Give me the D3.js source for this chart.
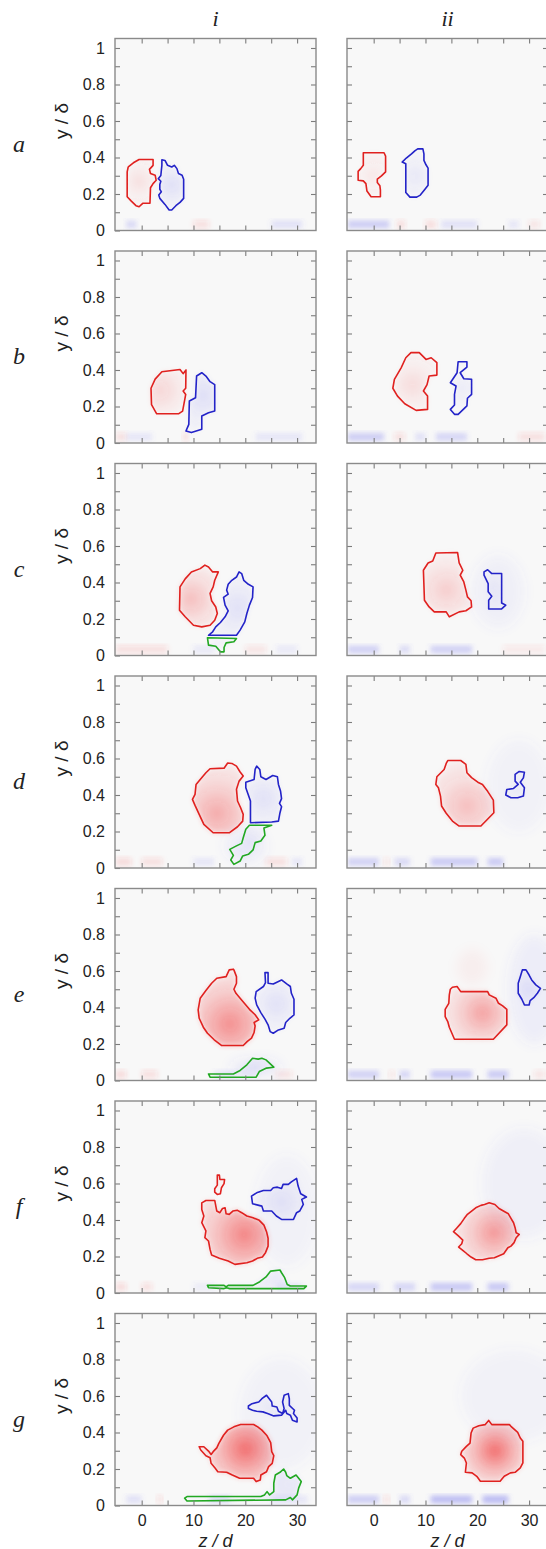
<!DOCTYPE html>
<html>
<head>
<meta charset="utf-8">
<script src="https://cdn.jsdelivr.net/npm/d3@7"></script>
<style>
  body { margin: 0; background: #fff; }
  svg { display: block; }
</style>
</head>
<body>
<script>
"use strict";

const rowNames = ["a", "b", "c", "d", "e", "f", "g"];
const colNames = ["i", "ii"];
const zTicks = [0, 5, 10, 15, 20, 25, 30];
const zLabels = [0, 10, 20, 30];
const yTicks = [0.1, 0.2, 0.3, 0.4, 0.5, 0.6, 0.7, 0.8, 0.9, 1.0];
const yLabels = [0, 0.2, 0.4, 0.6, 0.8, 1];

// contours per row: col (0 = i, 1 = ii), kind, peak of the shading, strength, outline [z, y]
const rowA = [
  {col: 0, kind: "red", peak: [-0.5, 0.27], s: 0.12, pts: [[-2.4,0.353],[-1.6,0.371],[-0.5,0.389],[2.2,0.389],[2.2,0.357],[1.5,0.335],[1.7,0.312],[2.6,0.303],[2.8,0.275],[2.2,0.257],[1.7,0.234],[1.6,0.149],[0.2,0.149],[-0.5,0.13],[-1.1,0.136],[-2.0,0.161],[-2.8,0.185],[-2.8,0.321],[-2.6,0.348]]},
  {col: 0, kind: "blue", peak: [5.8, 0.25], s: 0.16, pts: [[3.9,0.388],[4.5,0.384],[5.0,0.357],[5.8,0.348],[6.3,0.357],[6.8,0.339],[7.1,0.312],[7.8,0.303],[8.1,0.281],[8.1,0.176],[7.4,0.154],[6.6,0.136],[5.8,0.112],[5.3,0.112],[4.5,0.143],[3.5,0.176],[3.3,0.194],[3.8,0.212],[3.5,0.226],[3.5,0.252],[3.7,0.27],[3.2,0.284],[3.7,0.302],[3.8,0.33],[3.9,0.357]]},
  {col: 1, kind: "red", peak: [0, 0.3], s: 0.09, pts: [[-2.0,0.426],[2.0,0.426],[2.3,0.408],[2.3,0.321],[1.5,0.299],[0.7,0.281],[0.7,0.263],[1.2,0.245],[1.3,0.221],[1.3,0.185],[-0.5,0.185],[-1.3,0.216],[-1.5,0.257],[-2.0,0.272],[-3.0,0.275],[-3.0,0.324],[-2.5,0.339],[-2.0,0.357]]},
  {col: 1, kind: "blue", peak: [8, 0.3], s: 0.1, pts: [[8.5,0.447],[9.5,0.447],[9.7,0.42],[9.7,0.384],[10.1,0.36],[10.5,0.342],[10.5,0.248],[9.9,0.226],[9.0,0.194],[8.3,0.183],[7.0,0.183],[6.2,0.208],[6.2,0.366],[5.5,0.375],[6.3,0.397],[7.3,0.42],[8.0,0.438]]}
];

const rowB = [
  {col: 0, kind: "red", peak: [3.5, 0.29], s: 0.18, pts: [[3.9,0.39],[7.4,0.403],[8.0,0.38],[8.55,0.40],[8.5,0.30],[8.0,0.285],[8.5,0.266],[7.9,0.175],[7.1,0.16],[2.9,0.16],[1.9,0.21],[1.8,0.30],[2.6,0.35]]},
  {col: 0, kind: "blue", peak: [11.8, 0.26], s: 0.16, pts: [[11.6,0.385],[10.6,0.367],[10.4,0.248],[9.2,0.23],[9.1,0.102],[8.55,0.066],[9.6,0.057],[11.6,0.075],[11.6,0.148],[12.9,0.166],[14.1,0.175],[14.1,0.32],[13.2,0.336],[12.4,0.367]]},
  {col: 1, kind: "red", peak: [7.5, 0.32], s: 0.14, pts: [[7.2,0.495],[8.8,0.495],[10.1,0.458],[11.1,0.467],[12.2,0.44],[12.2,0.372],[10.7,0.367],[10.3,0.32],[9.6,0.285],[10.4,0.257],[10.4,0.184],[8.2,0.179],[6.0,0.215],[4.6,0.257],[3.7,0.30],[4.0,0.349],[5.3,0.412],[6.2,0.467]]},
  {col: 1, kind: "blue", peak: [17, 0.3], s: 0.08, pts: [[16.3,0.445],[18.0,0.445],[18.0,0.416],[16.7,0.385],[17.4,0.352],[18.9,0.349],[18.9,0.266],[18.1,0.245],[18.0,0.203],[16.3,0.157],[15.6,0.157],[14.8,0.184],[15.6,0.208],[15.6,0.266],[15.9,0.312],[14.8,0.33],[16.1,0.385]]}
];

const rowC = [
  {col: 0, kind: "red", peak: [9.5, 0.31], s: 0.3, pts: [[12.2,0.495],[11.3,0.476],[9.6,0.458],[8.4,0.42],[7.4,0.376],[7.3,0.248],[8.4,0.212],[10.0,0.166],[11.6,0.157],[13.2,0.166],[14.1,0.193],[14.6,0.23],[14.3,0.266],[13.5,0.30],[13.2,0.34],[13.8,0.376],[14.1,0.412],[14.8,0.458],[13.7,0.458],[12.9,0.485]]},
  {col: 0, kind: "blue", peak: [18.5, 0.26], s: 0.15, pts: [[18.8,0.458],[18.3,0.43],[17.4,0.412],[16.7,0.39],[16.4,0.358],[16.7,0.336],[15.8,0.318],[16.1,0.276],[16.7,0.245],[16.1,0.212],[15.2,0.181],[14.3,0.157],[13.7,0.13],[12.9,0.111],[18.3,0.111],[19.0,0.139],[19.9,0.184],[20.3,0.23],[20.8,0.276],[21.4,0.318],[21.5,0.376],[20.6,0.39],[19.7,0.412],[19.3,0.449]]},
  {col: 0, kind: "green", peak: [15.5, 0.07], s: 0.06, pts: [[12.7,0.097],[18.3,0.093],[17.8,0.075],[16.3,0.069],[15.9,0.044],[15.9,0.02],[15.2,0.02],[14.3,0.051],[12.9,0.057]]},
  {col: 1, kind: "red", peak: [14, 0.36], s: 0.22, pts: [[12.0,0.562],[16.2,0.564],[16.5,0.507],[17.2,0.467],[16.7,0.44],[17.4,0.403],[17.8,0.358],[18.1,0.321],[18.8,0.30],[18.9,0.266],[17.8,0.245],[16.5,0.239],[14.6,0.212],[14.0,0.239],[11.7,0.239],[10.7,0.266],[9.8,0.303],[9.6,0.467],[10.5,0.507],[11.4,0.518]]},
  {col: 1, kind: "blue", peak: [23.2, 0.35], s: 0.07, pts: [[21.3,0.458],[22.0,0.47],[22.8,0.449],[24.7,0.449],[24.7,0.288],[25.5,0.276],[24.7,0.255],[22.2,0.255],[22.2,0.303],[22.8,0.325],[22.1,0.349],[22.1,0.394],[21.3,0.44]]}
];

const rowD = [
  {col: 0, kind: "red", peak: [14.5, 0.3], s: 0.4, pts: [[16.6,0.575],[15.9,0.547],[13.2,0.544],[12.4,0.522],[11.3,0.485],[10.5,0.458],[10.3,0.403],[9.8,0.376],[10.3,0.343],[11.1,0.294],[12.0,0.239],[13.8,0.193],[16.9,0.193],[18.5,0.226],[19.5,0.257],[19.6,0.294],[19.1,0.33],[18.5,0.367],[18.3,0.431],[18.8,0.476],[19.6,0.504],[19.0,0.526],[18.3,0.558],[17.4,0.573]]},
  {col: 0, kind: "blue", peak: [23.5, 0.38], s: 0.15, pts: [[22.2,0.558],[22.8,0.54],[23.0,0.50],[24.0,0.485],[25.3,0.507],[26.2,0.50],[26.4,0.458],[26.8,0.422],[27.0,0.38],[26.6,0.354],[27.0,0.336],[26.7,0.303],[26.4,0.257],[25.1,0.252],[21.0,0.248],[21.0,0.367],[20.1,0.44],[20.1,0.47],[21.7,0.485],[21.9,0.54]]},
  {col: 0, kind: "green", peak: [21, 0.14], s: 0.07, pts: [[20.8,0.234],[25.1,0.234],[23.6,0.219],[23.8,0.179],[23.0,0.148],[21.9,0.139],[21.5,0.099],[20.6,0.075],[19.5,0.066],[19.0,0.038],[17.8,0.02],[17.2,0.044],[17.7,0.069],[17.0,0.102],[18.2,0.12],[19.3,0.135],[19.6,0.166],[20.1,0.212]]},
  {col: 1, kind: "red", peak: [18, 0.34], s: 0.3, pts: [[14.3,0.589],[16.8,0.589],[17.8,0.568],[18.0,0.522],[18.9,0.495],[20.1,0.47],[21.0,0.458],[22.0,0.42],[23.1,0.372],[23.2,0.303],[20.7,0.23],[16.5,0.23],[15.2,0.257],[14.0,0.30],[13.1,0.34],[12.9,0.394],[12.5,0.44],[12.0,0.458],[12.2,0.50],[13.6,0.54],[14.0,0.573]]},
  {col: 1, kind: "blue", peak: [27.5, 0.44], s: 0.06, pts: [[27.3,0.513],[28.1,0.529],[29.1,0.525],[28.9,0.494],[28.3,0.47],[29.1,0.44],[28.9,0.394],[27.8,0.385],[26.5,0.385],[25.5,0.40],[25.7,0.43],[27.0,0.436],[27.9,0.458],[27.3,0.476]]}
];

const rowE = [
  {col: 0, kind: "red", peak: [17, 0.31], s: 0.55, pts: [[17.7,0.61],[16.9,0.606],[16.3,0.569],[14.5,0.56],[13.5,0.533],[12.4,0.493],[11.3,0.451],[10.9,0.387],[11.1,0.341],[11.9,0.292],[12.7,0.259],[14.0,0.223],[15.4,0.192],[19.6,0.192],[20.4,0.214],[21.2,0.232],[21.7,0.263],[21.9,0.299],[21.7,0.318],[22.6,0.332],[21.9,0.36],[20.8,0.39],[19.9,0.42],[19.0,0.451],[18.2,0.478],[17.8,0.50],[18.3,0.533],[18.3,0.569],[17.8,0.606]]},
  {col: 0, kind: "blue", peak: [26, 0.42], s: 0.15, pts: [[23.8,0.591],[24.4,0.591],[24.4,0.533],[25.4,0.529],[27.0,0.551],[28.0,0.529],[28.7,0.515],[28.9,0.478],[29.4,0.445],[29.4,0.359],[28.6,0.341],[27.8,0.318],[27.5,0.286],[26.4,0.277],[25.4,0.259],[24.8,0.268],[24.4,0.305],[23.8,0.336],[23.0,0.372],[22.2,0.414],[21.9,0.451],[22.1,0.487],[23.5,0.515],[23.9,0.536]]},
  {col: 0, kind: "green", peak: [21, 0.06], s: 0.1, pts: [[12.9,0.036],[17.7,0.036],[19.0,0.055],[20.3,0.086],[21.4,0.122],[22.5,0.117],[23.2,0.122],[24.0,0.113],[25.5,0.073],[24.1,0.068],[22.7,0.049],[22.1,0.018],[13.2,0.018]]},
  {col: 1, kind: "red", peak: [21, 0.37], s: 0.45, pts: [[15.2,0.511],[16.1,0.515],[16.8,0.487],[22.0,0.487],[22.3,0.469],[23.6,0.451],[24.1,0.423],[24.9,0.409],[25.7,0.39],[25.7,0.305],[23.1,0.226],[15.6,0.226],[15.1,0.259],[14.6,0.292],[14.3,0.323],[13.8,0.35],[13.8,0.39],[14.5,0.423],[14.6,0.469],[14.8,0.50]]},
  {col: 1, kind: "blue", peak: [30, 0.5], s: 0.12, pts: [[28.7,0.606],[29.4,0.606],[30.0,0.578],[30.5,0.551],[31.3,0.524],[32.2,0.505],[31.6,0.478],[30.9,0.454],[30.2,0.438],[30.0,0.414],[29.1,0.414],[28.6,0.445],[27.9,0.478],[27.9,0.533],[28.3,0.569]]}
];

const rowF = [
  {col: 0, kind: "red", peak: [19.8, 0.32], s: 0.6, pts: [[12.4,0.507],[14.1,0.507],[14.5,0.449],[15.1,0.44],[15.6,0.463],[16.1,0.467],[16.3,0.434],[16.9,0.431],[17.6,0.449],[18.5,0.453],[19.3,0.44],[20.3,0.422],[21.5,0.412],[22.7,0.398],[23.6,0.372],[24.1,0.336],[24.4,0.30],[24.4,0.257],[23.9,0.221],[23.3,0.197],[22.3,0.19],[21.4,0.175],[20.3,0.166],[18.0,0.157],[16.7,0.175],[15.0,0.19],[13.5,0.208],[13.2,0.239],[12.9,0.285],[12.2,0.303],[12.4,0.34],[11.6,0.385],[12.0,0.422],[11.6,0.458],[11.6,0.494]]},
  {col: 0, kind: "red", peak: [15, 0.6], s: 0.05, pts: [[14.6,0.646],[15.0,0.646],[15.1,0.622],[16.0,0.622],[15.9,0.599],[15.4,0.577],[15.2,0.544],[14.6,0.54],[14.1,0.553],[14.1,0.571],[14.6,0.591]]},
  {col: 0, kind: "blue", peak: [27, 0.5], s: 0.12, pts: [[21.2,0.531],[22.2,0.549],[23.5,0.562],[24.9,0.562],[25.4,0.577],[26.2,0.58],[27.0,0.573],[27.3,0.595],[28.3,0.595],[28.9,0.609],[29.9,0.628],[30.2,0.586],[30.7,0.544],[31.8,0.526],[30.9,0.513],[31.2,0.485],[30.5,0.449],[29.9,0.44],[29.3,0.403],[27.0,0.403],[26.0,0.422],[25.1,0.449],[23.5,0.449],[23.2,0.476],[21.4,0.489]]},
  {col: 0, kind: "green", peak: [26, 0.07], s: 0.1, pts: [[12.7,0.042],[15.9,0.042],[16.3,0.033],[16.7,0.042],[21.5,0.042],[22.8,0.062],[24.0,0.088],[24.9,0.12],[26.7,0.126],[27.0,0.111],[27.6,0.084],[28.1,0.047],[28.7,0.038],[31.8,0.038],[31.3,0.024],[17.0,0.024],[16.4,0.029],[15.9,0.024],[12.9,0.029]]},
  {col: 1, kind: "red", peak: [23.2, 0.33], s: 0.5, pts: [[21.4,0.485],[22.3,0.494],[23.4,0.485],[24.2,0.463],[25.3,0.445],[26.0,0.434],[26.5,0.409],[27.0,0.385],[27.3,0.358],[27.5,0.33],[28.1,0.321],[27.5,0.303],[27.1,0.276],[26.5,0.257],[25.9,0.248],[25.1,0.215],[23.3,0.193],[22.3,0.19],[21.0,0.182],[19.7,0.182],[18.8,0.197],[18.0,0.215],[17.2,0.234],[16.4,0.252],[17.0,0.27],[17.2,0.29],[16.3,0.314],[15.4,0.336],[16.1,0.358],[16.8,0.38],[17.5,0.409],[18.1,0.431],[18.9,0.449],[19.7,0.467],[20.7,0.48]]}
];

const rowG = [
  {col: 0, kind: "red", peak: [20, 0.31], s: 0.72, pts: [[11.1,0.322],[12.0,0.322],[12.9,0.298],[13.4,0.28],[13.8,0.295],[14.5,0.316],[14.9,0.34],[15.8,0.385],[16.6,0.413],[17.8,0.431],[19.1,0.444],[21.6,0.444],[22.4,0.431],[23.2,0.413],[24.2,0.382],[24.9,0.345],[25.1,0.295],[25.5,0.273],[25.2,0.231],[24.5,0.213],[24.1,0.185],[23.0,0.167],[22.9,0.14],[22.1,0.131],[21.6,0.149],[18.9,0.149],[17.5,0.167],[16.4,0.182],[14.7,0.185],[14.2,0.204],[13.4,0.231],[13.2,0.262],[12.4,0.273],[11.4,0.304]]},
  {col: 0, kind: "blue", peak: [27, 0.52], s: 0.08, pts: [[20.6,0.545],[21.3,0.558],[22.6,0.567],[23.2,0.585],[24.1,0.604],[24.5,0.589],[25.1,0.567],[25.2,0.545],[26.1,0.54],[26.4,0.516],[27.2,0.504],[27.5,0.531],[27.2,0.567],[27.5,0.604],[28.3,0.613],[28.5,0.585],[28.5,0.549],[29.5,0.522],[29.3,0.504],[30.0,0.48],[30.0,0.458],[29.1,0.467],[28.7,0.495],[28.0,0.504],[27.8,0.522],[27.0,0.495],[25.5,0.491],[24.3,0.504],[23.4,0.513],[22.2,0.516],[21.4,0.522],[20.6,0.531]]},
  {col: 0, kind: "green", peak: [28.5, 0.12], s: 0.12, pts: [[8.3,0.04],[8.75,0.049],[23.0,0.049],[23.7,0.058],[24.2,0.076],[24.7,0.058],[25.5,0.076],[25.5,0.122],[25.8,0.167],[26.7,0.182],[27.4,0.2],[27.8,0.182],[28.0,0.164],[28.7,0.149],[29.8,0.167],[30.3,0.149],[30.8,0.131],[30.3,0.095],[30.0,0.058],[29.1,0.031],[28.7,0.044],[27.8,0.031],[8.75,0.025]]},
  {col: 1, kind: "red", peak: [23.4, 0.3], s: 0.72, pts: [[22.2,0.466],[21.5,0.443],[20.3,0.437],[19.2,0.424],[18.8,0.397],[18.6,0.342],[17.9,0.324],[17.0,0.297],[16.8,0.279],[17.5,0.26],[17.9,0.233],[17.7,0.182],[19.0,0.179],[19.9,0.16],[20.6,0.133],[24.4,0.133],[25.2,0.16],[26.4,0.179],[27.3,0.182],[28.3,0.206],[28.8,0.233],[28.8,0.352],[28.3,0.37],[27.8,0.401],[26.5,0.434],[26.2,0.443],[22.8,0.443]]}
];

// faint streaks along the wall: [row, col, z0, z1, kind, strength]
const wallStreaks = [
  [0,0,-3,-1,"blue",0.2],[0,0,10,13,"red",0.12],[0,0,25,31,"blue",0.15],
  [0,1,-5,3,"blue",0.28],[0,1,4.5,6,"red",0.15],[0,1,10,12,"red",0.15],[0,1,13,20,"blue",0.15],[0,1,26,28,"blue",0.12],[0,1,30,32,"red",0.1],
  [1,0,-5,-3,"red",0.12],[1,0,-3,2,"blue",0.12],[1,0,8,9,"red",0.15],[1,0,22,31,"blue",0.12],
  [1,1,-5,2,"blue",0.28],[1,1,4,6,"red",0.12],[1,1,8,10,"blue",0.15],[1,1,12,18,"blue",0.22],[1,1,28,33,"red",0.12],
  [2,0,-5,5,"red",0.12],[2,0,10,14,"blue",0.1],[2,0,20,24,"red",0.1],[2,0,26,30,"blue",0.1],
  [2,1,-5,1,"blue",0.25],[2,1,5,7,"blue",0.18],[2,1,11,19,"blue",0.25],[2,1,25,33,"red",0.08],
  [3,0,-5,-2,"red",0.14],[3,0,0,4,"red",0.12],[3,0,10,14,"blue",0.12],[3,0,24,28,"red",0.12],[3,0,29,31,"blue",0.12],
  [3,1,-5,1,"blue",0.25],[3,1,2,3,"red",0.1],[3,1,4,7,"blue",0.2],[3,1,11,20,"blue",0.3],[3,1,22,25,"blue",0.3],
  [4,0,-5,-3,"red",0.14],[4,0,0,3,"red",0.12],[4,0,14,18,"blue",0.12],[4,0,26,29,"red",0.1],
  [4,1,-5,1,"blue",0.25],[4,1,3,4,"red",0.1],[4,1,5,7,"blue",0.22],[4,1,11,19,"blue",0.32],[4,1,22,26,"blue",0.3],[4,1,31,33,"red",0.1],
  [5,0,-5,-3,"red",0.14],[5,0,0,2,"red",0.12],[5,0,10,14,"blue",0.08],[5,0,26,31,"blue",0.1],
  [5,1,-5,1,"blue",0.22],[5,1,4,8,"blue",0.22],[5,1,11,19,"blue",0.32],[5,1,22,26,"blue",0.32],
  [6,0,-3,0,"blue",0.15],[6,0,3,4,"red",0.12],[6,0,13,17,"blue",0.15],[6,0,25,32,"blue",0.12],
  [6,1,-5,1,"blue",0.28],[6,1,2,3,"red",0.12],[6,1,5,7,"blue",0.2],[6,1,11,19,"blue",0.38],[6,1,21,26,"blue",0.4]
];

// broad diffuse patches: [row, col, z, y, rz, ry, kind, strength]
const hazes = [
  [2,1,24,0.35,5,0.2,"blue",0.06],
  [3,0,20,0.12,4,0.1,"blue",0.07],
  [3,1,28,0.45,6,0.25,"blue",0.05],
  [4,0,22,0.07,5,0.05,"blue",0.08],
  [4,1,31,0.5,5,0.3,"blue",0.07],
  [4,1,19,0.62,3,0.1,"red",0.04],
  [5,0,28,0.45,6,0.3,"blue",0.05],
  [5,1,29,0.6,8,0.3,"blue",0.06],
  [6,0,27,0.5,8,0.3,"blue",0.05],
  [6,1,27,0.6,10,0.25,"blue",0.05]
];

const rows = [rowA, rowB, rowC, rowD, rowE, rowF, rowG];

const W = 546, H = 1549;
const colX = [115, 347];
const pw = 201, ph = 192;
const rowTop = k => 38.5 + 212.5 * k;

const lineColor = {red: "#e0211f", blue: "#2323c8", green: "#22a822"};
const fillColor = {red: "rgb(240,60,60)", blue: "rgb(95,95,235)", green: "rgb(110,110,235)"};

const x = d3.scaleLinear().domain([-5.15, 33.65]).range([0, pw]);
const y = d3.scaleLinear().domain([0, 1.052]).range([ph, 0]);

const svg = d3.select("body").append("svg")
  .attr("width", W).attr("height", H);

const defs = svg.append("defs");
defs.append("clipPath").attr("id", "panel-clip")
  .append("rect").attr("width", pw).attr("height", ph);
defs.append("filter").attr("id", "soft")
  .attr("x", "-30%").attr("y", "-30%").attr("width", "160%").attr("height", "160%")
  .append("feGaussianBlur").attr("stdDeviation", 2.5);
defs.append("filter").attr("id", "softer")
  .attr("x", "-50%").attr("y", "-50%").attr("width", "200%").attr("height", "200%")
  .append("feGaussianBlur").attr("stdDeviation", 6);

const line = d3.line().x(d => x(d[0])).y(d => y(d[1])).curve(d3.curveLinearClosed);

// column headers
colNames.forEach((c, j) => {
  svg.append("text")
    .attr("x", colX[j] + pw / 2).attr("y", 26)
    .attr("text-anchor", "middle")
    .style("font-family", "'Liberation Serif', 'DejaVu Serif', serif")
    .style("font-style", "italic")
    .style("font-size", "22px")
    .attr("fill", "#222")
    .text(c);
});

rows.forEach((contours, r) => {
  const top = rowTop(r);

  // row letter and y title
  svg.append("text")
    .attr("x", 19).attr("y", top + y(0.47) + 7)
    .attr("text-anchor", "middle")
    .style("font-family", "'Liberation Serif', 'DejaVu Serif', serif")
    .style("font-style", "italic")
    .style("font-size", "24px")
    .attr("fill", "#222")
    .text(rowNames[r]);

  svg.append("text")
    .attr("transform", `translate(68,${top + y(0.6)}) rotate(-90)`)
    .attr("text-anchor", "middle")
    .style("font-family", "'Liberation Sans', Arial, sans-serif")
    .style("font-size", "19px")
    .attr("fill", "#222")
    .text("y / \u03b4");

  colNames.forEach((c, j) => {
    const g = svg.append("g").attr("transform", `translate(${colX[j]},${top})`);
    g.append("rect").attr("width", pw).attr("height", ph).attr("fill", "#f8f8f8");

    const shade = g.append("g").attr("clip-path", "url(#panel-clip)");

    // diffuse patches
    hazes.filter(h => h[0] === r && h[1] === j).forEach(h => {
      shade.append("ellipse")
        .attr("cx", x(h[2])).attr("cy", y(h[3]))
        .attr("rx", x(h[2] + h[4]) - x(h[2])).attr("ry", y(0) - y(h[5]))
        .attr("fill", fillColor[h[6]]).attr("fill-opacity", h[7])
        .attr("filter", "url(#softer)");
    });

    // wall streaks
    wallStreaks.filter(s => s[0] === r && s[1] === j).forEach(s => {
      shade.append("rect")
        .attr("x", x(s[2])).attr("width", x(s[3]) - x(s[2]))
        .attr("y", y(0.055)).attr("height", y(0.012) - y(0.055))
        .attr("fill", fillColor[s[4]]).attr("fill-opacity", s[5])
        .attr("filter", "url(#soft)");
    });

    const mine = contours.filter(d => d.col === j);

    // shading inside each contour, strongest at its peak
    mine.forEach((d, k) => {
      const id = `grad-${r}-${j}-${k}`;
      const cx = x(d.peak[0]), cy = y(d.peak[1]);
      const rad = d3.max(d.pts, p => Math.hypot(x(p[0]) - cx, y(p[1]) - cy));
      const grad = defs.append("radialGradient").attr("id", id)
        .attr("gradientUnits", "userSpaceOnUse")
        .attr("cx", cx).attr("cy", cy).attr("r", rad);
      grad.append("stop").attr("offset", 0).attr("stop-color", fillColor[d.kind]).attr("stop-opacity", d.s);
      grad.append("stop").attr("offset", 0.55).attr("stop-color", fillColor[d.kind]).attr("stop-opacity", d.s * 0.45);
      grad.append("stop").attr("offset", 1).attr("stop-color", fillColor[d.kind]).attr("stop-opacity", d.s * 0.15);
      shade.append("path")
        .attr("d", line(d.pts))
        .attr("fill", `url(#${id})`)
        .attr("filter", "url(#soft)");
    });

    // contour outlines
    g.append("g").selectAll("path")
      .data(mine)
      .join("path")
      .attr("d", d => line(d.pts))
      .attr("fill", "none")
      .attr("stroke", d => lineColor[d.kind])
      .attr("stroke-width", 1.6)
      .attr("stroke-linejoin", "round");

    // axes with inward ticks on all four sides
    const last = r === rows.length - 1;
    const axB = d3.axisBottom(x).tickValues(zTicks).tickSize(-5).tickPadding(9)
      .tickFormat(d => (last && zLabels.includes(d)) ? d : "");
    const axT = d3.axisTop(x).tickValues(zTicks).tickSize(-5).tickFormat("");
    const axL = d3.axisLeft(y).tickValues(j === 0 ? [0].concat(yTicks) : yTicks).tickSize(-5).tickPadding(10)
      .tickFormat(d => (j === 0 && yLabels.includes(d)) ? d : "");
    const axR = d3.axisRight(y).tickValues(yTicks).tickSize(-5).tickFormat("");

    const axes = [
      g.append("g").attr("transform", `translate(0,${ph})`).call(axB),
      g.append("g").call(axT),
      g.append("g").call(axL),
      g.append("g").attr("transform", `translate(${pw},0)`).call(axR)
    ];
    axes.forEach(a => {
      a.select(".domain").remove();
      a.selectAll(".tick line").attr("stroke", "#7c7c7c").attr("stroke-width", 1.1);
      a.selectAll(".tick text")
        .style("font-family", "'Liberation Sans', Arial, sans-serif")
        .style("font-size", "16px")
        .attr("fill", "#222");
    });

    g.append("rect").attr("width", pw).attr("height", ph)
      .attr("fill", "none").attr("stroke", "#8a8a8a").attr("stroke-width", 1.4);

    if (last) {
      g.append("text")
        .attr("x", pw / 2).attr("y", ph + 41)
        .attr("text-anchor", "middle")
        .style("font-family", "'Liberation Sans', Arial, sans-serif")
        .style("font-style", "italic")
        .style("font-size", "18px")
        .attr("fill", "#222")
        .text("z / d");
    }
  });
});
</script>
</body>
</html>
